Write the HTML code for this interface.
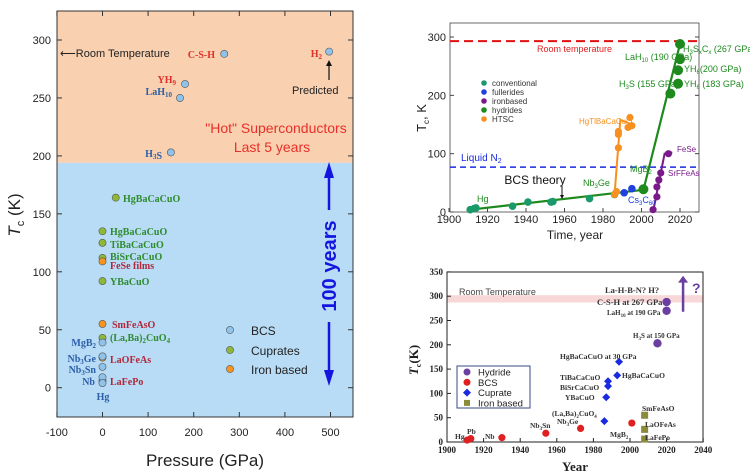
<!DOCTYPE html>
<html><head><meta charset="utf-8">
<style>
body{margin:0;background:#fff;width:750px;height:475px;overflow:hidden}
svg{position:absolute;left:0;top:0}
text{font-family:"Liberation Sans",sans-serif}
.serif{font-family:"Liberation Serif",serif;font-weight:bold}
</style></head>
<body>
<svg id="s" width="750" height="475" viewBox="0 0 750 475" xmlns="http://www.w3.org/2000/svg"></svg>
<script>
// ---------- Chart 1 data ----------
const p1Names=["C-S-H","H2","YH9","LaH10","H3S","HgBaCaCuO 30GPa","HgBaCaCuO","TiBaCaCuO","BiSrCaCuO","YBaCuO","(La,Ba)2CuO4","FeSe films","SmFeAsO","LaOFeAs","LaFePo","MgB2","Nb3Ge","Nb3Sn","Nb","Hg"];
const p1Pressure=[267,497,181,170,150,29,0,0,0,0,0,0,0,0,0,0,0,0,0,0];
const p1Tc=[288,290,262,250,203,164,135,125,112,92,43,109,55,26,6,39,27,18,9,4];
const p1Type=["bcs","bcs","bcs","bcs","bcs","cup","cup","cup","cup","cup","cup","fe","fe","fe","fe","bcs","bcs","bcs","bcs","bcs"];
const p1XTicks=[-100,0,100,200,300,400,500];
const p1YTicks=[0,50,100,150,200,250,300];
// ---------- Chart 2 data ----------
const c2ConvYear=[1911,1913,1914,1933,1941,1953,1954,1973,1986,2001];
const c2ConvTc=[4,6,7,10,17,17,18,23,30,39];
const c2FullYear=[1991,1995];
const c2FullTc=[33,40];
const c2FeYear=[2006,2008,2008,2009,2010,2014];
const c2FeTc=[4,26,43,55,67,100];
const c2HydYear=[2001,2015,2019,2019,2020,2020];
const c2HydTc=[39,203,220,243,262,288];
const c2HtscYear=[1986,1987,1988,1988,1988,1993,1994,1995];
const c2HtscTc=[30,35,110,133,138,145,162,148];
const c2XTicks=[1900,1920,1940,1960,1980,2000,2020];
const c2YTicks=[0,100,200,300];
// ---------- Chart 3 data ----------
const c3HydYear=[2015,2020,2020];
const c3HydTc=[203,288,270];
const c3BcsYear=[1911,1913,1930,1954,1973,2001];
const c3BcsTc=[4,7,9,18,28,39];
const c3CupYear=[1986,1987,1988,1988,1993,1994];
const c3CupTc=[43,92,115,125,137,165];
const c3FeYear=[2008,2008,2008];
const c3FeTc=[55,26,6];
const c3XTicks=[1900,1920,1940,1960,1980,2000,2020,2040];
const c3YTicks=[0,50,100,150,200,250,300,350];

const S=document.getElementById('s');
const NS="http://www.w3.org/2000/svg";
function mk(tag,attrs,parent){const e=document.createElementNS(NS,tag);for(const k in attrs)e.setAttribute(k,attrs[k]);(parent||S).appendChild(e);return e;}
function txt(x,y,str,attrs,parent){const e=mk('text',Object.assign({x:x,y:y},attrs||{}),parent);e.innerHTML=str;return e;}

// ===== Chart 1 =====
const x1=v=>102.5+v*0.456;
const y1=v=>387.7-v*1.159;
const g1=mk('g',{});


let r=mk('rect',{x:57,y:11,width:296,height:y1(194)-11,fill:'#f9d0b0'},g1);


r=mk('rect',{x:57,y:y1(194),width:296,height:417-y1(194),fill:'#b8dcf6'},g1);


mk('rect',{x:57,y:11,width:296,height:406,fill:'none',stroke:'#333','stroke-width':1},g1);
p1XTicks.forEach(t=>{const X=x1(t);mk('line',{x1:X,x2:X,y1:417,y2:412,stroke:'#333'},g1);mk('line',{x1:X,x2:X,y1:11,y2:16,stroke:'#333'},g1);
 const e=txt(X,436,t,{'font-size':11,'text-anchor':'middle',fill:'#222'},g1);
 
 });
p1YTicks.forEach(t=>{const Y=y1(t);mk('line',{x1:57,x2:62,y1:Y,y2:Y,stroke:'#333'},g1);mk('line',{x1:353,x2:348,y1:Y,y2:Y,stroke:'#333'},g1);
 const e=txt(51,Y+4,t,{'font-size':11,'text-anchor':'end',fill:'#222'},g1);
 
 });
let e=txt(205,466,'Pressure (GPa)',{'font-size':17,'text-anchor':'middle',fill:'#222'},g1);


e=txt(0,0,'<tspan font-style="italic">T</tspan><tspan font-size="11" dy="4">c</tspan><tspan dy="-4"> (K)</tspan>',{'font-size':17,'text-anchor':'middle',fill:'#222',transform:'translate(20,215) rotate(-90)'},g1);


const col1={bcs:'#8fc3ea',cup:'#8db83a',fe:'#f7941d'};
p1Tc.forEach((v,i)=>{const c=mk('circle',{cx:x1(p1Pressure[i]),cy:y1(v),r:3.6,fill:col1[p1Type[i]],stroke:'#555','stroke-width':0.6},g1);
 
 });
const lab1=[[60,57,'⟵Room Temperature','#222','sans',11,'start'],[215,58,'C-S-H','#e0302a','serif',10,'end'],[322,57,'H<tspan font-size="7" dy="2">2</tspan>','#e0302a','serif',10,'end'],
[176,83,'YH<tspan font-size="7" dy="2">9</tspan>','#e0302a','serif',10,'end'],[172,95,'LaH<tspan font-size="7" dy="2">10</tspan>','#2c5fa8','serif',10,'end'],[162,157,'H<tspan font-size="7" dy="2">3</tspan>S','#2c5fa8','serif',10,'end'],
[123,202,'HgBaCaCuO','#2e8b2e','serif',10,'start'],[110,235,'HgBaCaCuO','#2e8b2e','serif',10,'start'],[110,248,'TiBaCaCuO','#2e8b2e','serif',10,'start'],[110,260,'BiSrCaCuO','#2e8b2e','serif',10,'start'],[110,269,'FeSe films','#b0283a','serif',10,'start'],[110,285,'YBaCuO','#2e8b2e','serif',10,'start'],
[112,328,'SmFeAsO','#b0283a','serif',10,'start'],[110,341,'(La,Ba)<tspan font-size="7" dy="2">2</tspan><tspan dy="-2">CuO</tspan><tspan font-size="7" dy="2">4</tspan>','#2e8b2e','serif',10,'start'],[110,363,'LaOFeAs','#b0283a','serif',10,'start'],[110,385,'LaFePo','#b0283a','serif',10,'start'],
[96,346,'MgB<tspan font-size="7" dy="2">2</tspan>','#2c5fa8','serif',10,'end'],[96,362,'Nb<tspan font-size="7" dy="2">3</tspan><tspan dy="-2">Ge</tspan>','#2c5fa8','serif',10,'end'],[96,373,'Nb<tspan font-size="7" dy="2">3</tspan><tspan dy="-2">Sn</tspan>','#2c5fa8','serif',10,'end'],[95,385,'Nb','#2c5fa8','serif',10,'end'],[103,400,'Hg','#2c5fa8','serif',10,'middle']];
lab1.forEach(l=>{const t=txt(l[0],l[1],l[2],{'font-size':l[5],'text-anchor':l[6],fill:l[3]},g1);if(l[4]==='serif')t.setAttribute('class','serif');
 
 });
txt(292,94,'Predicted',{'font-size':11,fill:'#222'},g1);
mk('line',{x1:329,x2:329,y1:80,y2:63,stroke:'#111','stroke-width':1.2},g1);mk('path',{d:'M326,66 L329,60 L332,66Z',fill:'#111'},g1);
e=txt(276,133,'"Hot" Superconductors',{'font-size':14,'text-anchor':'middle',fill:'#e8302a'},g1);


txt(272,152,'Last 5 years',{'font-size':14,'text-anchor':'middle',fill:'#e8302a'},g1);
mk('line',{x1:329,x2:329,y1:176,y2:210,stroke:'#1515e0','stroke-width':2.5},g1);mk('path',{d:'M324,178 L329,162 L334,178Z',fill:'#1515e0'},g1);
mk('line',{x1:329,x2:329,y1:322,y2:372,stroke:'#1515e0','stroke-width':2.5},g1);mk('path',{d:'M324,370 L329,386 L334,370Z',fill:'#1515e0'},g1);
e=txt(0,0,'100 years',{'font-size':20,'font-weight':'bold','text-anchor':'middle',fill:'#1515e0',transform:'translate(336,266) rotate(-90)'},g1);


[['BCS',col1.bcs,330],['Cuprates',col1.cup,350],['Iron based',col1.fe,369]].forEach(l=>{mk('circle',{cx:230,cy:l[2],r:3.6,fill:l[1],stroke:'#555','stroke-width':0.6},g1);
 const t=txt(251,l[2]+5,l[0],{'font-size':12,fill:'#222'},g1);
 
 });

// ===== Chart 2 =====
const x2=v=>449+(v-1900)*1.925;
const y2=v=>212-v*0.5833;
const g2=mk('g',{});


mk('rect',{x:450,y:23,width:249,height:189,fill:'none',stroke:'#444','stroke-width':0.8},g2);
c2XTicks.forEach(t=>{const X=x2(t);mk('line',{x1:X,x2:X,y1:212,y2:208,stroke:'#444'},g2);
 const e=txt(X,223,t,{'font-size':11,'text-anchor':'middle',fill:'#222'},g2);
 
 });
c2YTicks.forEach(t=>{const Y=y2(t);mk('line',{x1:450,x2:454,y1:Y,y2:Y,stroke:'#444'},g2);mk('line',{x1:699,x2:695,y1:Y,y2:Y,stroke:'#444'},g2);
 const e=txt(446,Y+4,t,{'font-size':11,'text-anchor':'end',fill:'#222'},g2);
 
 });
e=txt(575,239,'Time, year',{'font-size':12,'text-anchor':'middle',fill:'#222'},g2);


e=txt(0,0,'T<tspan font-size="8" dy="3">c</tspan><tspan dy="-3">, K</tspan>',{'font-size':13,'text-anchor':'middle',fill:'#222',transform:'translate(426,118) rotate(-90)'},g2);


let ln=mk('line',{x1:450,x2:699,y1:y2(293),y2:y2(293),stroke:'#e01010','stroke-width':2,'stroke-dasharray':'9,5'},g2);


txt(537,52,'Room temperature',{'font-size':9,fill:'#e02020'},g2);
ln=mk('line',{x1:450,x2:699,y1:y2(77),y2:y2(77),stroke:'#1a2ae0','stroke-width':1.5,'stroke-dasharray':'6,4'},g2);


txt(461,161,'Liquid N<tspan font-size="7" dy="2">2</tspan>',{'font-size':10,fill:'#1a2ae0'},g2);
function poly(xs,ys,col,w,name){const p=mk('polyline',{points:xs.map((v,i)=>x2(v)+','+y2(ys[i])).join(' '),fill:'none',stroke:col,'stroke-width':w},g2);
 
 }
poly([1911,2001,2020],[4,38,288],'#1e8a1e',2.2,'trend-conventional-hydride');
poly([1986,1989,1995],[30,158,150],'#f7901e',2,'trend-htsc');
poly([2006,2012,2016],[0,100,102],'#7a1a8a',2,'trend-ironbased');
function dots(xs,ys,col,rad,name){ys.forEach((v,i)=>{const c=mk('circle',{cx:x2(xs[i]),cy:y2(v),r:rad,fill:col},g2);
 
 });}
dots(c2ConvYear,c2ConvTc,'#1a9a6a',3.8,'point-conventional');
dots(c2FullYear,c2FullTc,'#2040e0',3.8,'point-fulleride');
dots(c2FeYear,c2FeTc,'#7a1a8a',3.6,'point-ironbased');
dots(c2HydYear,c2HydTc,'#1e8a1e',5,'point-hydride');
dots(c2HtscYear,c2HtscTc,'#f7901e',3.6,'point-htsc');
[['conventional','#1a9a6a'],['fullerides','#2040e0'],['ironbased','#7a1a8a'],['hydrides','#1e8a1e'],['HTSC','#f7901e']].forEach((l,i)=>{const Y=83+i*9;mk('circle',{cx:484,cy:Y,r:2.8,fill:l[1]},g2);
 const t=txt(492,Y+3,l[0],{'font-size':8,fill:'#333'},g2);
 
 });
const lab2=[[477,202,'Hg','#1e8a1e',9],[583,186,'Nb<tspan font-size="6" dy="2">3</tspan><tspan dy="-2">Ge</tspan>','#1e8a1e',9],[630,172,'MgB<tspan font-size="6" dy="2">2</tspan>','#1e8a1e',9],[628,203,'Cs<tspan font-size="6" dy="2">3</tspan><tspan dy="-2">C</tspan><tspan font-size="6" dy="2">60</tspan>','#2040e0',9],
[579,124,'HgTlBaCaCuO','#f7901e',8],[677,152,'FeSe','#7a1a8a',8],[668,176,'SrFFeAs','#7a1a8a',8],[683,52,'H<tspan font-size="6" dy="2">3</tspan><tspan dy="-2">S</tspan><tspan font-size="6" dy="2">x</tspan><tspan dy="-2">C</tspan><tspan font-size="6" dy="2">x</tspan><tspan dy="-2"> (267 GPa)</tspan>','#1e8a1e',9],
[625,60,'LaH<tspan font-size="6" dy="2">10</tspan><tspan dy="-2"> (190 GPa)</tspan>','#1e8a1e',9],[684,72,'YH<tspan font-size="6" dy="2">6</tspan><tspan dy="-2">(200 GPa)</tspan>','#1e8a1e',9],[619,87,'H<tspan font-size="6" dy="2">3</tspan><tspan dy="-2">S (155 GPa)</tspan>','#1e8a1e',9],[684,87,'YH<tspan font-size="6" dy="2">6</tspan><tspan dy="-2"> (183 GPa)</tspan>','#1e8a1e',9]];
lab2.forEach(l=>{const t=txt(l[0],l[1],l[2],{'font-size':l[4],fill:l[3]},g2);
 
 });
e=txt(535,184,'BCS theory',{'font-size':12,fill:'#111','text-anchor':'middle'},g2);


mk('line',{x1:562,x2:562,y1:186,y2:196,stroke:'#111'},g2);mk('path',{d:'M560,195 L562,199 L564,195Z',fill:'#111'},g2);

// ===== Chart 3 =====
const x3=v=>447+(v-1900)*1.83;
const y3=v=>442-v*0.486;
const g3=mk('g',{});


r=mk('rect',{x:447,y:y3(302),width:256,height:y3(287)-y3(302),fill:'#f7d7d7'},g3);


mk('rect',{x:447,y:272,width:256,height:170,fill:'none',stroke:'#222','stroke-width':1},g3);
c3XTicks.forEach(t=>{const X=x3(t);mk('line',{x1:X,x2:X,y1:442,y2:438,stroke:'#222'},g3);
 const e=txt(X,453,t,{'font-size':9,'text-anchor':'middle',fill:'#222',class:'serif'},g3);
 
 });
c3YTicks.forEach(t=>{const Y=y3(t);mk('line',{x1:447,x2:451,y1:Y,y2:Y,stroke:'#222'},g3);
 const e=txt(443,Y+3,t,{'font-size':9,'text-anchor':'end',fill:'#222',class:'serif'},g3);
 
 });
e=txt(575,471,'Year',{'font-size':13,'text-anchor':'middle',fill:'#222',class:'serif'},g3);


e=txt(0,0,'<tspan font-style="italic">T</tspan><tspan font-size="8" dy="3">c</tspan><tspan dy="-3">(K)</tspan>',{'font-size':13,'text-anchor':'middle',fill:'#222',class:'serif',transform:'translate(418,360) rotate(-90)'},g3);


e=txt(459,295,'Room Temperature',{'font-size':9,fill:'#444','font-family':'Liberation Serif, serif'},g3);


c3HydTc.forEach((v,i)=>{const c=mk('circle',{cx:x3(c3HydYear[i]),cy:y3(v),r:4.2,fill:'#6a3fa0'},g3);
 
 });
c3BcsTc.forEach((v,i)=>{const c=mk('circle',{cx:x3(c3BcsYear[i]),cy:y3(v),r:3.6,fill:'#e02020'},g3);
 
 });
c3CupTc.forEach((v,i)=>{const X=x3(c3CupYear[i]),Y=y3(v);const c=mk('path',{d:`M${X},${Y-4} L${X+4},${Y} L${X},${Y+4} L${X-4},${Y}Z`,fill:'#1a2ae0'},g3);
 
 });
c3FeTc.forEach((v,i)=>{const c=mk('rect',{x:x3(c3FeYear[i])-3.5,y:y3(v)-3.5,width:7,height:7,fill:'#8b8b3a'},g3);
 
 });
mk('line',{x1:x3(2029),x2:x3(2029),y1:y3(268),y2:y3(330),stroke:'#6a3fa0','stroke-width':2.5},g3);
mk('path',{d:`M${x3(2029)-5},${y3(328)} L${x3(2029)},${y3(342)} L${x3(2029)+5},${y3(328)}Z`,fill:'#6a3fa0'},g3);
txt(692,293,'?',{'font-size':14,fill:'#6a3fa0','font-weight':'bold'},g3);
const lab3=[[605,293,'La-H-B-N?   H?',8.5],[597,305,'C-S-H at 267 GPa',8.5],[607,315,'LaH<tspan font-size="5" dy="2">10</tspan><tspan dy="-2"> at 190 GPa</tspan>',7],[633,338,'H<tspan font-size="5" dy="2">3</tspan><tspan dy="-2">S at 150 GPa</tspan>',7],
[560,359,'HgBaCaCuO at 30 GPa',7.5],[622,378,'HgBaCaCuO',7.5],[560,380,'TiBaCaCuO',7.5],[560,390,'BiSrCaCuO',7.5],[565,400,'YBaCuO',7.5],[552,416,'(La,Ba)<tspan font-size="5" dy="2">2</tspan><tspan dy="-2">CuO</tspan><tspan font-size="5" dy="2">4</tspan>',7.5],
[557,424,'Nb<tspan font-size="5" dy="2">3</tspan><tspan dy="-2">Ge</tspan>',7.5],[530,428,'Nb<tspan font-size="5" dy="2">3</tspan><tspan dy="-2">Sn</tspan>',7.5],[485,439,'Nb',7.5],[455,439,'Hg',7.5],[467,434,'Pb',7.5],[610,437,'MgB<tspan font-size="5" dy="2">2</tspan>',7.5],
[642,411,'SmFeAsO',7.5],[645,427,'LaOFeAs',7.5],[645,440,'LaFePo',7.5]];
lab3.forEach(l=>{const t=txt(l[0],l[1],l[2],{'font-size':l[3],fill:'#333',class:'serif'},g3);
 
 });
r=mk('rect',{x:457,y:366,width:73,height:42,fill:'#fff',stroke:'#3a4a8a','stroke-width':1},g3);


[['Hydride','#6a3fa0','c'],['BCS','#e02020','c'],['Cuprate','#1a2ae0','d'],['Iron based','#8b8b3a','s']].forEach((l,i)=>{const Y=372+i*10.3,X=467;
 if(l[2]==='c')mk('circle',{cx:X,cy:Y,r:3.5,fill:l[1]},g3);
 else if(l[2]==='d')mk('path',{d:`M${X},${Y-4} L${X+4},${Y} L${X},${Y+4} L${X-4},${Y}Z`,fill:l[1]},g3);
 else mk('rect',{x:X-3,y:Y-3,width:6,height:6,fill:l[1]},g3);
 const t=txt(478,Y+3.5,l[0],{'font-size':9.5,fill:'#222'},g3);
 
 });
</script>
</body></html>
